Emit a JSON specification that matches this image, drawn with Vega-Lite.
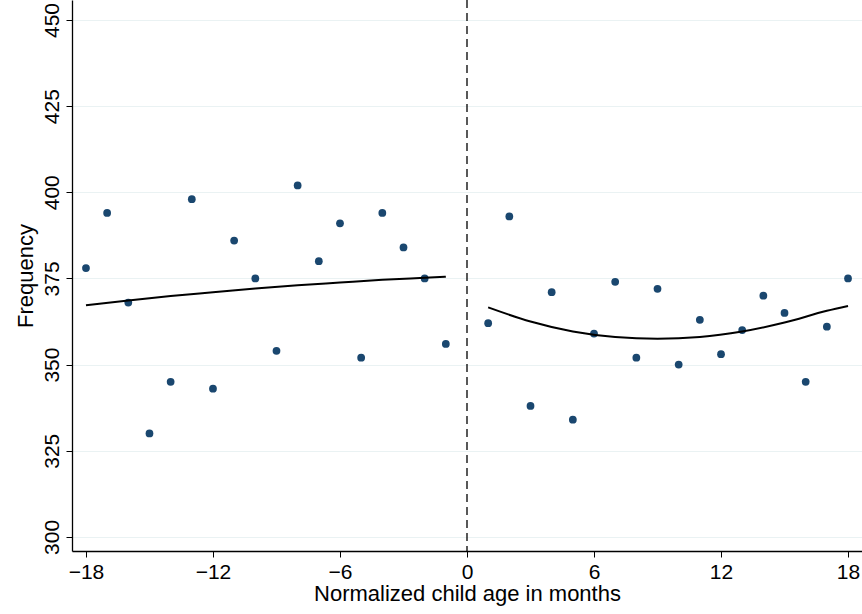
{
  "$schema": "https://vega.github.io/schema/vega-lite/v6.json",
  "width": 790,
  "height": 551,
  "autosize": {"type": "none"},
  "padding": {"left": 72, "top": 0, "right": 0, "bottom": 63},
  "background": "white",
  "config": {
    "font": "Liberation Sans",
    "view": {"stroke": null},
    "axis": {"labelFontSize": 21, "titleFontSize": 22, "labelColor": "black", "titleColor": "black", "titleFontWeight": "normal", "domainColor": "black", "tickColor": "black", "domainWidth": 1.3}
  },
  "datasets": {
    "pts": [
      {"x": -18, "y": 378}, {"x": -17, "y": 394}, {"x": -16, "y": 368}, {"x": -15, "y": 330},
      {"x": -14, "y": 345}, {"x": -13, "y": 398}, {"x": -12, "y": 343}, {"x": -11, "y": 386},
      {"x": -10, "y": 375}, {"x": -9, "y": 354}, {"x": -8, "y": 402}, {"x": -7, "y": 380},
      {"x": -6, "y": 391}, {"x": -5, "y": 352}, {"x": -4, "y": 394}, {"x": -3, "y": 384},
      {"x": -2, "y": 375}, {"x": -1, "y": 356},
      {"x": 1, "y": 362}, {"x": 2, "y": 393}, {"x": 3, "y": 338}, {"x": 4, "y": 371},
      {"x": 5, "y": 334}, {"x": 6, "y": 359}, {"x": 7, "y": 374}, {"x": 8, "y": 352},
      {"x": 9, "y": 372}, {"x": 10, "y": 350}, {"x": 11, "y": 363}, {"x": 12, "y": 353},
      {"x": 13, "y": 360}, {"x": 14, "y": 370}, {"x": 15, "y": 365}, {"x": 16, "y": 345},
      {"x": 17, "y": 361}, {"x": 18, "y": 375}
    ],
    "fit": [
      {"x": -18, "y": 367.2, "s": "L"}, {"x": -16, "y": 368.6, "s": "L"}, {"x": -14, "y": 369.9, "s": "L"},
      {"x": -12, "y": 371.0, "s": "L"}, {"x": -10, "y": 372.1, "s": "L"}, {"x": -8, "y": 373.0, "s": "L"},
      {"x": -6, "y": 373.8, "s": "L"}, {"x": -4, "y": 374.6, "s": "L"}, {"x": -2, "y": 375.2, "s": "L"},
      {"x": -1, "y": 375.5, "s": "L"},
      {"x": 1, "y": 366.6, "s": "R"}, {"x": 3, "y": 362.5, "s": "R"}, {"x": 5, "y": 359.6, "s": "R"},
      {"x": 7, "y": 358.0, "s": "R"}, {"x": 9, "y": 357.5, "s": "R"}, {"x": 11, "y": 358.0, "s": "R"},
      {"x": 13, "y": 359.6, "s": "R"}, {"x": 15, "y": 362.2, "s": "R"}, {"x": 17, "y": 365.6, "s": "R"},
      {"x": 18, "y": 367.0, "s": "R"}
    ],
    "vline": [{"x": 0}]
  },
  "layer": [
    {
      "data": {"name": "pts"},
      "mark": {"type": "circle", "size": 60, "color": "#1a476f", "opacity": 1},
      "encoding": {
        "x": {"field": "x", "type": "quantitative", "scale": {"domain": [-18.66, 18.66], "nice": false, "zero": false},
          "axis": {"values": [-18, -12, -6, 0, 6, 12, 18], "title": "Normalized child age in months", "grid": false, "titlePadding": 1, "tickSize": 6, "labelPadding": 4}},
        "y": {"field": "y", "type": "quantitative", "scale": {"domain": [295.9, 455.8], "nice": false, "zero": false},
          "axis": {"values": [300, 325, 350, 375, 400, 425, 450], "title": "Frequency", "labelAngle": -90, "labelAlign": "center", "labelBaseline": "bottom", "grid": true, "gridColor": "#eaf2f3", "titlePadding": 4, "tickSize": 6, "labelPadding": 4}}
      }
    },
    {
      "data": {"name": "fit"},
      "mark": {"type": "line", "color": "black", "strokeWidth": 2, "interpolate": "monotone"},
      "encoding": {
        "x": {"field": "x", "type": "quantitative"},
        "y": {"field": "y", "type": "quantitative"},
        "detail": {"field": "s"}
      }
    },
    {
      "data": {"name": "vline"},
      "mark": {"type": "rule", "color": "black", "strokeDash": [8, 5], "strokeWidth": 1.3},
      "encoding": {"x": {"field": "x", "type": "quantitative"}}
    }
  ]
}
